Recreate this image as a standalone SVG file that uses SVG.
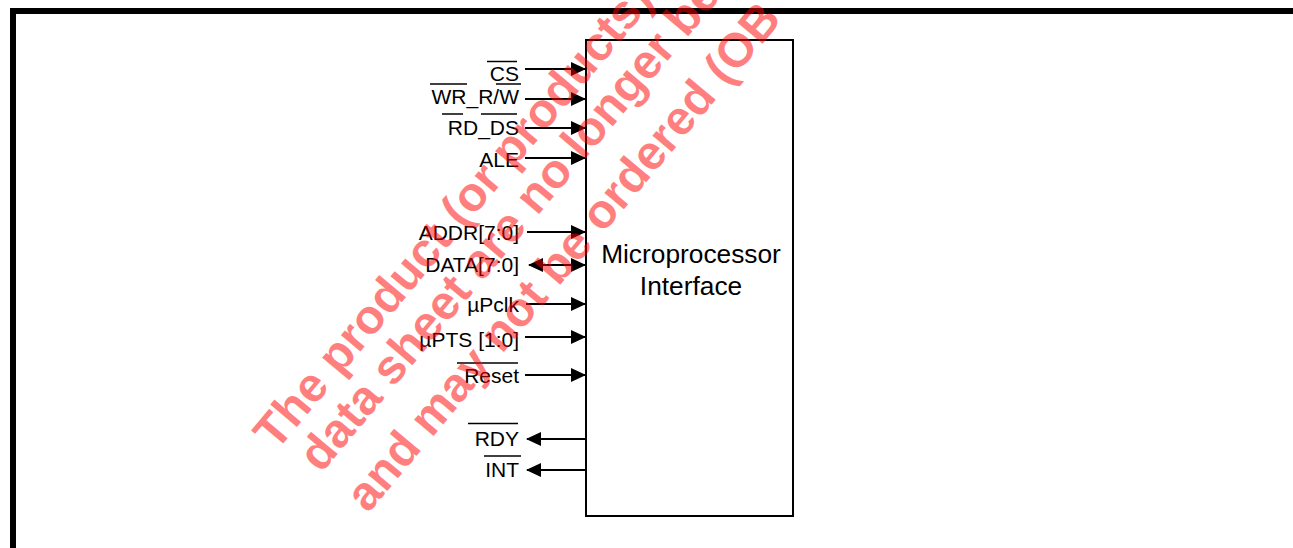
<svg xmlns="http://www.w3.org/2000/svg" width="1293" height="548" viewBox="0 0 1293 548">
<style>
.lbl{font-family:"Liberation Sans",Arial,sans-serif;font-size:21px;fill:#000;text-anchor:end}
.ttl{font-family:"Liberation Sans",Arial,sans-serif;font-size:26.3px;fill:#000;text-anchor:middle}
.ov{stroke:#000;stroke-width:1.5}
.wire{stroke:#000;stroke-width:2;fill:none}
.wm{font-family:"Liberation Sans",Arial,sans-serif;font-weight:bold;font-size:48px;fill:#ff0000;fill-opacity:0.5}
</style>
<defs>
<marker id="ah" viewBox="0 0 15 14" refX="14" refY="7" markerWidth="15" markerHeight="14" markerUnits="userSpaceOnUse" orient="auto-start-reverse">
<path d="M0,0 L15,7 L0,14 Z" fill="#000"/>
</marker>
</defs>
<g id="frame">
<rect x="10" y="8" width="1283" height="6" fill="#000"/>
<rect x="10" y="8" width="6" height="540" fill="#000"/>
</g>
<g id="mpi">
<rect x="586" y="40" width="207" height="476" fill="#fff" stroke="#000" stroke-width="2"/>
<text class="ttl" x="691" y="263">Microprocessor</text>
<text class="ttl" x="691" y="295">Interface</text>
</g>
<g id="connectors">
<line class="wire" x1="525" y1="69" x2="585" y2="69" marker-end="url(#ah)"/>
<line class="wire" x1="525" y1="99" x2="585" y2="99" marker-end="url(#ah)"/>
<line class="wire" x1="525" y1="128" x2="585" y2="128" marker-end="url(#ah)"/>
<line class="wire" x1="525" y1="158" x2="585" y2="158" marker-end="url(#ah)"/>
<line class="wire" x1="527" y1="232" x2="585" y2="232" marker-end="url(#ah)"/>
<line class="wire" x1="529" y1="265" x2="585" y2="265" marker-start="url(#ah)" marker-end="url(#ah)"/>
<line class="wire" x1="526" y1="304" x2="585" y2="304" marker-end="url(#ah)"/>
<line class="wire" x1="525" y1="337" x2="585" y2="337" marker-end="url(#ah)"/>
<line class="wire" x1="525" y1="375" x2="585" y2="375" marker-end="url(#ah)"/>
<line class="wire" x1="586" y1="439" x2="527" y2="439" marker-end="url(#ah)"/>
<line class="wire" x1="586" y1="470" x2="527" y2="470" marker-end="url(#ah)"/>
</g>
<g id="labels">
<g id="cs"><text class="lbl" x="519" y="80.5">CS</text><line class="ov" x1="487" y1="61.5" x2="517" y2="61.5"/></g>
<g id="wr"><text class="lbl" x="519" y="104">WR_R/W</text><line class="ov" x1="430" y1="84" x2="467" y2="84"/><line class="ov" x1="496" y1="84" x2="521" y2="84"/></g>
<g id="rd"><text class="lbl" x="519" y="135">RD_DS</text><line class="ov" x1="442" y1="114" x2="463" y2="114"/><line class="ov" x1="481" y1="114" x2="517" y2="114"/></g>
<g id="ale"><text class="lbl" x="519" y="166.5">ALE</text></g>
<g id="addr"><text class="lbl" x="519" y="240">ADDR[7:0]</text></g>
<g id="data"><text class="lbl" x="519" y="271.5">DATA[7:0]</text></g>
<g id="upclk"><text class="lbl" x="519" y="311.5">µPclk</text></g>
<g id="upts"><text class="lbl" x="519" y="346.5">µPTS [1:0]</text></g>
<g id="reset"><text class="lbl" x="519" y="383">Reset</text><line class="ov" x1="457" y1="363" x2="518" y2="363"/></g>
<g id="rdy"><text class="lbl" x="519" y="445.5">RDY</text><line class="ov" x1="468" y1="423.5" x2="518" y2="423.5"/></g>
<g id="int"><text class="lbl" x="519" y="476.5">INT</text><line class="ov" x1="484" y1="456" x2="521" y2="456"/></g>
</g>
<g id="watermark">
<text class="wm" x="276" y="452" transform="rotate(-50 276 452)">The product (or products) be</text>
<text class="wm" x="321" y="474" transform="rotate(-50 321 474)">data sheet are no longer be</text>
<text class="wm" x="368" y="514" transform="rotate(-50 368 514)">and may not be ordered (OB</text>
</g>
</svg>
